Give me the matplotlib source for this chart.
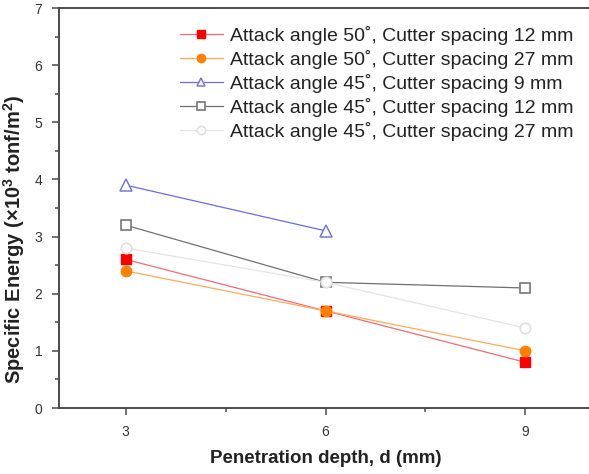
import numpy as np
import matplotlib
matplotlib.use("Agg")
import matplotlib.pyplot as plt
from matplotlib.ticker import MultipleLocator

plt.rcParams["font.family"] = ["Liberation Sans", "DejaVu Sans"]
plt.rcParams["mathtext.fontset"] = "custom"
plt.rcParams["mathtext.rm"] = "Liberation Sans"
plt.rcParams["mathtext.bf"] = "Liberation Sans:bold"

# ── data ──────────────────────────────────────────────────────────────────────
depth = [3, 6, 9]
depth_45_9 = [3, 6]

a50_s12 = [2.6, 1.7, 0.8]
a50_s27 = [2.4, 1.7, 1.0]
a45_s9 = [3.9, 3.1]
a45_s12 = [3.2, 2.2, 2.1]
a45_s27 = [2.8, 2.2, 1.4]

labels = [
    "Attack angle 50˚, Cutter spacing 12 mm",
    "Attack angle 50˚, Cutter spacing 27 mm",
    "Attack angle 45˚, Cutter spacing 9 mm",
    "Attack angle 45˚, Cutter spacing 12 mm",
    "Attack angle 45˚, Cutter spacing 27 mm",
]

# ── plot ──────────────────────────────────────────────────────────────────────
fig = plt.figure(figsize=(5.89, 4.74), dpi=100)
ax = fig.add_axes([59 / 589, 1 - 408 / 474, 533 / 589, 400 / 474])

ax.plot(depth, a50_s12, color="#f26a78", lw=0.9, marker="s", ms=6.5,
        mfc="#ff0000", mec="#ff0000", label=labels[0])
ax.plot(depth, a50_s27, color="#ffaa55", lw=0.9, marker="o", ms=7.5,
        mfc="#ff8000", mec="#ff8000", label=labels[1])
ax.plot(depth_45_9, a45_s9, color="#6a6af0", lw=0.9, marker="^", ms=8,
        mfc="white", mec="#7777dd", mew=1.1, label=labels[2])
ax.plot(depth, a45_s12, color="#707070", lw=0.9, marker="s", ms=6.5,
        mfc="white", mec="#777777", mew=1.2, label=labels[3])
ax.plot(depth, a45_s27, color="#e4e4e4", lw=0.9, marker="o", ms=7.5,
        mfc="white", mec="#e0e0e0", mew=1.2, label=labels[4])

ax.set_xlim(2, 10)
ax.set_ylim(0, 7)
ax.xaxis.set_major_locator(MultipleLocator(3))
ax.xaxis.set_minor_locator(MultipleLocator(1.5))
ax.yaxis.set_major_locator(MultipleLocator(1))
ax.yaxis.set_minor_locator(MultipleLocator(0.5))
ax.set_xticks([3, 6, 9])

for side in ax.spines.values():
    side.set_color("#4a4a4a")
    side.set_linewidth(1.4)

ax.tick_params(which="both", direction="out", color="#4a4a4a",
               labelcolor="#333333", labelsize=10, width=1.1, pad=7)
ax.tick_params(which="major", length=5)
ax.tick_params(which="minor", length=3)

ax.set_xlabel("Penetration depth, d (mm)", fontsize=13.5, fontweight="bold",
              color="#222222")
ax.xaxis.set_label_coords(0.5, -0.105)
ax.set_ylabel("Specific Energy (×10$^\\mathbf{3}$ tonf/m$^\\mathbf{2}$)",
              fontsize=14.5, fontweight="bold", color="#222222")
ax.yaxis.set_label_coords(-0.06, 0.4225)

ax.legend(loc="upper left", bbox_to_anchor=(180 / 589, 1 - 26 / 474),
          bbox_transform=fig.transFigure, frameon=False, fontsize=14,
          handlelength=2.2, handletextpad=0.35, labelspacing=0.26,
          borderpad=0, borderaxespad=0, markerscale=0.8,
          labelcolor="#222222")

fig.savefig("out.png", dpi=100)
